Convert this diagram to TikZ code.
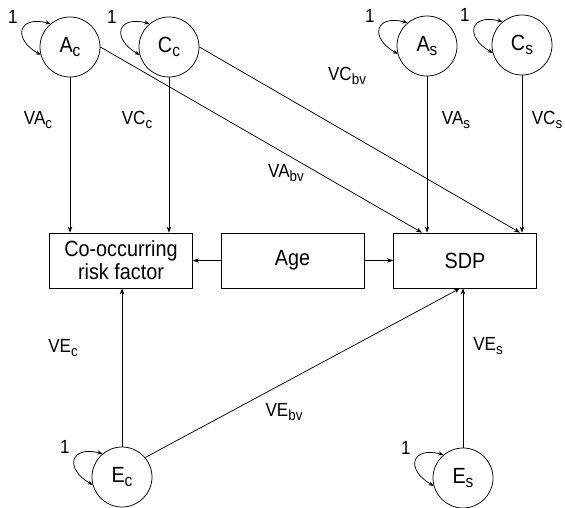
\documentclass[tikz,border=0pt]{standalone}
\usepackage{fontspec}
\setmainfont{Liberation Sans}[FakeStretch=0.9]
\usetikzlibrary{arrows.meta,positioning,calc}
\newcommand\lowsub[1]{\raisebox{-0.35ex}{\scalebox{0.78}{#1}}}
\tikzset{latent/.style={draw,circle,line width=0.75pt,minimum size=60pt,inner sep=0pt,
    font=\fontsize{22}{24}\selectfont}}
\tikzset{observed/.style={draw,rectangle,line width=0.75pt,minimum width=143pt,
    minimum height=55pt,align=center,font=\fontsize{22}{23}\selectfont}}
\tikzset{pathline/.style={line width=0.75pt,-{Stealth[length=6pt,width=4.5pt]}}}
\tikzset{varloop/.style={line width=0.75pt,
    {Stealth[length=5pt,width=4pt]}-{Stealth[length=5pt,width=4pt]}}}
\tikzset{coef/.style={font=\fontsize{19}{21}\selectfont,inner sep=0pt}}

\begin{document}
\begin{tikzpicture}[x=1pt,y=1pt]
\useasboundingbox (0,0) rectangle (565,-507);

%   latent factors
\node[latent] (Ac) at (70,-47) {A\lowsub{c}};
\node[latent] (Cc) at (169,-47) {C\lowsub{c}};
\node[latent] (As) at (427,-46) {A\lowsub{s}};
\node[latent] (Cs) at (522,-45) {C\lowsub{s}};
\node[latent] (Ec) at (122,-477) {E\lowsub{c}};
\node[latent] (Es) at (463,-478) {E\lowsub{s}};

%   observed variables
\node[observed] (Co) at (121,-260.5) {Co-occurring\\risk factor};
\node[observed] (Age) at (292.5,-260.5) {Age};
\node[observed] (SDP) at (465,-260.5) {SDP};

%   variances fixed to 1
\foreach \n in {Ac,Cc,As,Cs,Ec,Es}{
    \draw[varloop] (\n.130) to[out=165,in=150,looseness=2.6] (\n.195);
    \node[coef] (\n1) at ([shift={(-57,30)}]\n.center) {1};
}

%   end points on the SDP box
\coordinate (inAbv) at ([xshift=-5pt]As.south |- SDP.north);
\coordinate (inCbv) at ([xshift=-2pt]Cs.south |- SDP.north);
\coordinate (inEbv) at ([xshift=-3pt]Es.north |- SDP.south);

%   paths
\draw[pathline] (Ac.south) -- (Ac.south |- Co.north);
\draw[pathline] (Cc.south) -- (Cc.south |- Co.north);
\draw[pathline] (Ac.east) -- (inAbv);
\draw[pathline] (Cc.east) -- (inCbv);
\draw[pathline] (As.south) -- (As.south |- SDP.north);
\draw[pathline] (Cs.south) -- (Cs.south |- SDP.north);
\draw[pathline] (Age) -- (Co);
\draw[pathline] (Age) -- (SDP);
\draw[pathline] (Ec.north) -- (Ec.north |- Co.south);
\draw[pathline] (Ec.40) -- (inEbv);
\draw[pathline] (Es.north) -- (Es.north |- SDP.south);

%   path coefficients
\node[coef] (lVAc) at (38,-120) {VA\lowsub{c}};
\node[coef] (lVCc) at (137,-120) {VC\lowsub{c}};
\node[coef] (lVAs) at (456,-120) {VA\lowsub{s}};
\node[coef] (lVCs) at (547,-120) {VC\lowsub{s}};
\node[coef] (lVCbv) at (347,-76) {VC\lowsub{bv}};
\node[coef] (lVAbv) at (286,-173) {VA\lowsub{bv}};
\node[coef] (lVEc) at (63,-348) {VE\lowsub{c}};
\node[coef] (lVEbv) at (284,-412) {VE\lowsub{bv}};
\node[coef] (lVEs) at (488,-346) {VE\lowsub{s}};

\end{tikzpicture}
\end{document}
